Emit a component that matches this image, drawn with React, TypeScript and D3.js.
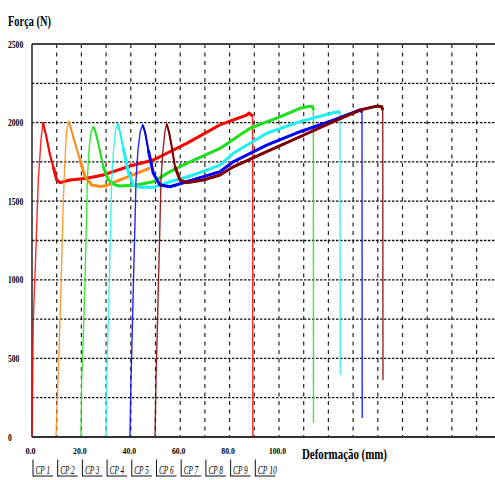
import React from "react";
import * as d3 from "d3";

const WIDTH = 495;
const HEIGHT = 480;

// Legend entries (specimens)
const specimenLabels = ["CP 1", "CP 2", "CP 3", "CP 4", "CP 5", "CP 6", "CP 7", "CP 8", "CP 9", "CP 10"];

// Axis ticks
const xTickValues = [0, 20, 40, 60, 80, 100];
const xTickLabels = ["0.0", "20.0", "40.0", "60.0", "80.0", "100.0"];
const yTickValues = [0, 500, 1000, 1500, 2000, 2500];
const yTickLabels = ["0", "500", "1000", "1500", "2000", "2500"];

type Pt = [number, number]; // [deformation (mm), force (N)]

const cp1: Pt[] = [
  [0, 0], [0.53, 744], [1.62, 1209], [2.55, 1635], [3.64, 1889], [4.41, 2000],
  [5.67, 1921], [7.29, 1794], [8.62, 1717], [10.0, 1635], [11.34, 1618], [15.38, 1635],
  [22.15, 1646], [28.87, 1667], [39.68, 1724], [49.11, 1762], [62.63, 1868], [76.0, 1985],
  [86.9, 2048], [87.9, 2061], [89.3, 2042], [89.4, 0],
];

const cp2: Pt[] = [
  [9.72, 0], [10.53, 363], [11.34, 744], [12.15, 1190], [12.67, 1508], [13.36, 1762],
  [13.97, 1940], [14.7, 2004], [15.59, 1972], [17.41, 1870], [19.43, 1762], [21.46, 1656],
  [24.17, 1603], [27.53, 1593], [30.24, 1600], [35.63, 1635], [42.39, 1677], [47.77, 1711],
];

const cp3: Pt[] = [
  [19.84, 0], [20.12, 363], [20.85, 681], [21.46, 999], [22.06, 1380], [22.39, 1635],
  [23.08, 1826], [23.89, 1940], [24.82, 1974], [25.71, 1940], [26.84, 1868], [28.87, 1719],
  [30.89, 1635], [33.6, 1603], [35.63, 1597], [42.39, 1603], [49.11, 1624], [55.87, 1688],
  [62.63, 1741], [76.11, 1836], [88.26, 1964], [100.4, 2037], [108.5, 2091], [112.6, 2105],
  [113.6, 2101], [113.9, 2080], [113.97, 89],
];

const cp4: Pt[] = [
  [29.96, 0], [30.24, 363], [30.77, 681], [31.3, 999], [31.78, 1317], [32.27, 1635],
  [33.0, 1826], [33.81, 1953], [34.7, 1991], [35.63, 1940], [36.96, 1838], [38.99, 1685],
  [41.01, 1603], [43.72, 1588], [49.11, 1588], [55.87, 1624], [65.3, 1667], [76.11, 1730],
  [81.5, 1805], [95.02, 1932], [108.5, 2006], [122.0, 2063], [124.0, 2069], [124.7, 2061],
  [124.8, 394],
];

const cp5: Pt[] = [
  [39.68, 0], [40.08, 363], [40.61, 681], [41.09, 999], [41.62, 1317], [42.11, 1635],
  [42.91, 1826], [43.85, 1947], [44.82, 1985], [45.75, 1940], [47.09, 1826], [49.11, 1677],
  [51.82, 1603], [55.87, 1592], [62.63, 1624], [76.11, 1688], [81.5, 1751], [95.02, 1857],
  [108.5, 1942], [122.0, 2016], [132.8, 2080], [133.6, 2067], [133.7, 121],
];

const cp6: Pt[] = [
  [49.8, 0], [50.2, 363], [50.73, 681], [51.21, 999], [51.74, 1317], [52.23, 1635],
  [53.04, 1826], [53.85, 1947], [54.53, 1991], [55.47, 1940], [56.56, 1847], [57.89, 1719],
  [59.92, 1635], [62.63, 1618], [69.35, 1635], [76.11, 1667], [81.5, 1719], [95.02, 1815],
  [108.5, 1910], [122.0, 2006], [132.8, 2080], [139.6, 2105], [141.6, 2101], [142.0, 2080],
  [142.1, 363],
];

const curves: Pt[][] = [cp1, cp2, cp3, cp4, cp5, cp6];
const curveColors = ["#ff0000", "#ff8c1a", "#1ee01e", "#22f0f0", "#0000ff", "#800000"];

const FONT = "'Liberation Serif', 'Times New Roman', serif";

export default function App() {
  const x = d3.scaleLinear().domain([0, 190]).range([32, 32 + 190 * 2.47]);
  const y = d3.scaleLinear().domain([0, 2500]).range([437, 44]);
  const right = WIDTH;

  const line = d3
    .line<Pt>()
    .x((d) => x(d[0]))
    .y((d) => y(d[1]))
    .curve(d3.curveLinear);

  const xGrid = d3.range(10, 190, 10);
  const yGrid = d3.range(250, 2500, 250);

  // from the yield peak to the last point before rupture
  const peakPart = (pts: Pt[]) => {
    const head = pts.slice(0, 10);
    const start = head.indexOf(d3.greatest(head, (p) => p[1])!);
    let end = pts.length - 1;
    while (end > 0 && pts[end][1] < 1500) end--;
    return pts.slice(start, end + 1);
  };
  // the noisy load plateau after the first drop
  const plateauPart = (pts: Pt[]) => {
    const part = peakPart(pts);
    const first = part.findIndex((p, k) => k > 0 && p[1] < 1700);
    return part.slice(Math.max(first - 1, 0));
  };

  return (
    <svg
      width={WIDTH}
      height={HEIGHT}
      style={{ position: "absolute", left: 0, top: 0, background: "#fff" }}
    >
      <rect x={0} y={0} width={WIDTH} height={HEIGHT} fill="#fff" />

      {/* grid */}
      {xGrid.map((v) => (
        <line
          key={"gx" + v}
          x1={x(v)}
          x2={x(v)}
          y1={y(2500)}
          y2={y(0)}
          stroke="#222"
          strokeWidth={1.2}
          strokeDasharray="4,4.5"
        />
      ))}
      {yGrid.map((v) => (
        <line
          key={"gy" + v}
          x1={x(0)}
          x2={right}
          y1={y(v)}
          y2={y(v)}
          stroke="#111"
          strokeWidth={1.3}
          strokeDasharray="2.5,1.5"
        />
      ))}

      {/* frame */}
      <line x1={x(0)} x2={right} y1={y(2500)} y2={y(2500)} stroke="#444" strokeWidth={2} />
      <line x1={x(0)} x2={x(0)} y1={y(2500)} y2={y(0)} stroke="#222" strokeWidth={1.5} />

      {/* force-deformation curves */}
      {curves.map((pts, i) => (
        <g key={"c" + i}>
          <path d={line(pts) || ""} fill="none" stroke={curveColors[i]} strokeWidth={1.4} strokeOpacity={0.85} />
          <path
            d={line(peakPart(pts)) || ""}
            fill="none"
            stroke={curveColors[i]}
            strokeWidth={2}
            strokeLinejoin="round"
          />
          <path
            d={line(plateauPart(pts)) || ""}
            fill="none"
            stroke={curveColors[i]}
            strokeWidth={3}
            strokeLinejoin="round"
          />
        </g>
      ))}

      <line x1={x(0)} x2={right} y1={y(0)} y2={y(0)} stroke="#333" strokeWidth={2.2} />

      {/* y tick labels */}
      {yTickValues.map((v, i) => (
        <text
          key={"yl" + v}
          x={8}
          y={y(v)}
          dominantBaseline="central"
          fontFamily={FONT}
          fontWeight="bold"
          fontSize={10.5}
          textLength={yTickLabels[i].length * 3.8}
          lengthAdjust="spacingAndGlyphs"
          fill="#000"
        >
          {yTickLabels[i]}
        </text>
      ))}

      {/* x tick labels */}
      {xTickValues.map((v, i) => (
        <text
          key={"xl" + v}
          x={x(v) - 1.5}
          y={453.5}
          textAnchor="middle"
          fontFamily={FONT}
          fontWeight="bold"
          fontSize={9}
          textLength={xTickLabels[i].length * 3.4}
          lengthAdjust="spacingAndGlyphs"
          fill="#000"
        >
          {xTickLabels[i]}
        </text>
      ))}

      {/* axis titles */}
      <text
        x={8}
        y={26}
        fontFamily={FONT}
        fontWeight="bold"
        fontSize={14}
        textLength={43}
        lengthAdjust="spacingAndGlyphs"
        fill="#000"
      >
        Força (N)
      </text>
      <text
        x={302}
        y={459}
        fontFamily={FONT}
        fontWeight="bold"
        fontSize={14}
        textLength={85}
        lengthAdjust="spacingAndGlyphs"
        fill="#000"
      >
        Deformação (mm)
      </text>

      {/* specimen legend */}
      {specimenLabels.map((lab, i) => {
        const lx = x(i * 10) + 1;
        return (
          <g key={"lg" + lab}>
            <line x1={lx} x2={lx} y1={459.5} y2={476.5} stroke="#111" strokeWidth={1} />
            <line x1={lx} x2={lx + 20} y1={476} y2={476} stroke="#111" strokeWidth={1} />
            <text
              x={lx + 2.5}
              y={473.5}
              fontFamily={FONT}
              fontStyle="italic"
              fontSize={12.5}
              textLength={lab.length > 4 ? 19 : 14.5}
              lengthAdjust="spacingAndGlyphs"
              fill="#000"
            >
              {lab}
            </text>
          </g>
        );
      })}
    </svg>
  );
}
